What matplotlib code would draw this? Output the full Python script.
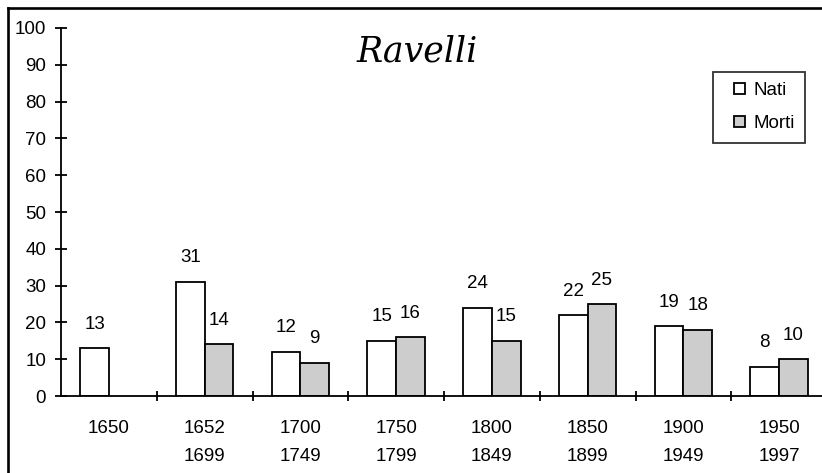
import matplotlib
matplotlib.use("Agg")
import matplotlib.pyplot as plt
import numpy as np
from matplotlib.lines import Line2D
from matplotlib.patches import Rectangle
from matplotlib.legend_handler import HandlerPatch

plt.rcParams['font.family'] = ['Liberation Sans', 'DejaVu Sans']

categories = ["1650", "1652\n1699", "1700\n1749", "1750\n1799", "1800\n1849",
              "1850\n1899", "1900\n1949", "1950\n1997"]
nati = [13, 31, 12, 15, 24, 22, 19, 8]
morti = [np.nan, 14, 9, 16, 15, 25, 18, 10]

W, H = 822, 473
fig = plt.figure(figsize=(W / 100, H / 100), dpi=100)
ax = fig.add_axes([61 / W, 1 - 396 / H, 766 / W, 368 / H])

fs = 13.5
x = np.arange(len(categories))
w = 0.30
bn = ax.bar(x - w/2, nati, w, color="white", edgecolor="black", linewidth=1.3, label="Nati")
bm = ax.bar(x + w/2, morti, w, color="#cdcdcd", edgecolor="black", linewidth=1.3, label="Morti")

for xi, v in zip(x, nati):
    if not np.isnan(v):
        ax.text(xi - w/2, v + 4.2, f"{v:g}", ha="center", va="bottom", fontsize=fs)
for xi, v in zip(x, morti):
    if not np.isnan(v):
        ax.text(xi + w/2, v + 4.2, f"{v:g}", ha="center", va="bottom", fontsize=fs)

ax.set_xlim(-0.5, 7.5)
ax.set_ylim(0, 100)
ax.set_yticks(np.arange(0, 101, 10))
ax.tick_params(axis="y", direction="inout", length=8.5, width=1.3, labelsize=fs, pad=6.5)
ax.set_xticks(np.arange(0.5, 7.6, 1))
ax.set_xticklabels([])
ax.tick_params(axis="x", direction="inout", length=7.5, width=1.3)
for xi, lab in zip(x, categories):
    ax.text(xi, -6.5, lab, ha="center", va="top", fontsize=fs, linespacing=1.85)

for s in ["top", "right"]:
    ax.spines[s].set_visible(False)
ax.spines["left"].set_linewidth(1.3)
ax.spines["bottom"].set_linewidth(1.3)
ax.patch.set_alpha(0)

fig.text(417 / W, 1 - 52 / H, "Ravelli", ha="center", va="center", fontsize=25,
         family="DejaVu Serif", style="italic")


def square(legend, orig_handle, xdescent, ydescent, width, height, fontsize):
    s = height
    return Rectangle((-xdescent + width - s, -ydescent), s, s)


leg = ax.legend(handles=[bn.patches[0], bm.patches[1]], labels=["Nati", "Morti"],
                loc="upper right", bbox_to_anchor=(805 / W, 1 - 72 / H),
                bbox_transform=fig.transFigure, borderaxespad=0, frameon=True,
                fancybox=False, edgecolor="black", fontsize=fs,
                handlelength=1.15, handleheight=0.55, handletextpad=0.45,
                borderpad=0.55, labelspacing=0.85,
                handler_map={Rectangle: HandlerPatch(patch_func=square)})
leg.get_frame().set_linewidth(1.3)

fig.add_artist(Line2D([8 / W, 8 / W], [0, 1 - 8 / H], transform=fig.transFigure,
                      color="black", linewidth=1.9))
fig.add_artist(Line2D([8 / W, 1], [1 - 8 / H, 1 - 8 / H], transform=fig.transFigure,
                      color="black", linewidth=1.9))

fig.savefig("out.png", dpi=100)
